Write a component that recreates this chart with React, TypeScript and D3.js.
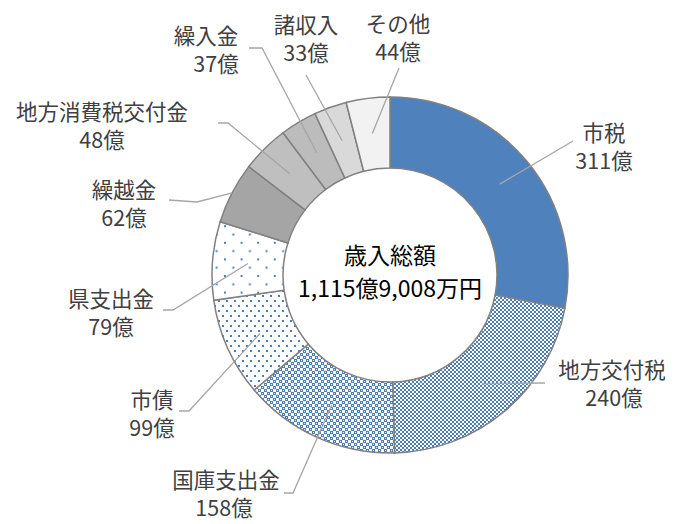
import React from "react";
import * as d3 from "d3";

const categories = ["市税", "地方交付税", "国庫支出金", "市債", "県支出金", "繰越金", "地方消費税交付金", "繰入金", "諸収入", "その他"];
const values = [311, 240, 158, 99, 79, 62, 48, 37, 33, 44];
const valueLabels = ["311億", "240億", "158億", "99億", "79億", "62億", "48億", "37億", "33億", "44億"];
const centerTitle = "歳入総額";
const centerTotal = "1,115億9,008万円";

// layout (label placement, leader line knee points)
const labelPos: [number, number][] = [
  [604, 131], [612, 368], [226, 478], [152, 398], [111, 297],
  [124, 188], [102, 110], [206, 34], [306, 23], [398, 22],
];
const valueDx = [0, 2, -2, 0, 0, 0, 0, 10, 0, 0];
const leaderPts: [number, number][][] = [
  [[573, 141]],
  [[545, 383]],
  [[284, 493], [293, 493]],
  [[179, 411], [189, 411]],
  [[163, 310], [173, 310]],
  [[169, 200], [197, 202]],
  [[218, 123], [228, 123]],
  [[249, 48], [262, 48]],
  [[306, 75]],
  [[399, 68]],
];
const leaderToEdge = [false, false, false, false, false, true, false, false, false, false];
const fills = [
  "#4f81bd", "url(#p1)", "url(#p2)", "url(#p3)", "url(#p4)",
  "#a5a5a5", "#bfbfbf", "#bcbcbc", "#d9d9d9", "#f2f2f2",
];

const W = 683, H = 524;
const cx = 390, cy = 275;
const R = 178, r = 107;
const BLUE = "#4a7ebb";

export default function App() {
  const pie = d3.pie<number>().sort(null).value((d) => d).startAngle(0).endAngle(2 * Math.PI);
  const arcs = pie(values);
  const arc = d3.arc<d3.PieArcDatum<number>>().innerRadius(r).outerRadius(R);
  const font = "'Noto Sans CJK JP', 'Noto Sans', sans-serif";

  return (
    <svg width={W} height={H} style={{ position: "absolute", left: 0, top: 0, background: "#fff" }}>
      <defs>
        <pattern id="p1" width="4" height="4" patternUnits="userSpaceOnUse">
          <rect width="4" height="4" fill="#fff" />
          <rect x="0" y="0" width="2" height="2" fill={BLUE} />
          <rect x="2" y="2" width="2" height="2" fill={BLUE} />
        </pattern>
        <pattern id="p2" width="6" height="6" patternUnits="userSpaceOnUse">
          <rect width="6" height="6" fill="#fff" />
          <rect x="0" y="0" width="3" height="3" fill={BLUE} />
          <rect x="3" y="3" width="3" height="3" fill={BLUE} />
          <rect x="1" y="1" width="1" height="1" fill="#fff" />
          <rect x="4" y="4" width="1" height="1" fill="#fff" />
        </pattern>
        <pattern id="p3" width="8" height="10" patternUnits="userSpaceOnUse">
          <rect width="8" height="10" fill="#fff" />
          <rect x="0" y="0" width="2" height="2" fill={BLUE} />
          <rect x="4" y="5" width="2" height="2" fill={BLUE} />
        </pattern>
        <pattern id="p4" width="16.6" height="16.6" patternUnits="userSpaceOnUse">
          <rect width="16.6" height="16.6" fill="#fff" />
          <rect x="0" y="0" width="2" height="2" fill={BLUE} />
          <rect x="8.3" y="8.3" width="2" height="2" fill={BLUE} />
        </pattern>
      </defs>
      <g transform={`translate(${cx},${cy})`}>
        {arcs.map((a, i) => (
          <path key={i} d={arc(a) || ""} fill={fills[i]} stroke="#808080" strokeWidth={1.5} />
        ))}
      </g>
      {arcs.map((a, i) => {
        const mid = (a.startAngle + a.endAngle) / 2;
        const rad = leaderToEdge[i] ? R : (R + r) / 2;
        const ex = cx + rad * Math.sin(mid);
        const ey = cy - rad * Math.cos(mid);
        const pts = [...leaderPts[i], [ex, ey]];
        const line = d3.line()(pts as [number, number][]) || "";
        return <path key={"l" + i} d={line} fill="none" stroke="#a6a6a6" strokeWidth={1.3} />;
      })}
      {categories.map((c, i) => (
        <g key={"t" + i} fontFamily={font} fontSize={21.5} fill="#404040" textAnchor="middle">
          <text x={labelPos[i][0]} y={labelPos[i][1]} dominantBaseline="central">{c}</text>
          <text x={labelPos[i][0] + valueDx[i]} y={labelPos[i][1] + 28} dominantBaseline="central">{valueLabels[i]}</text>
        </g>
      ))}
      <g fontFamily={font} fontSize={23} fill="#000" textAnchor="middle">
        <text x={cx} y={254} dominantBaseline="central">{centerTitle}</text>
        <text x={cx} y={287} dominantBaseline="central">{centerTotal}</text>
      </g>
    </svg>
  );
}
